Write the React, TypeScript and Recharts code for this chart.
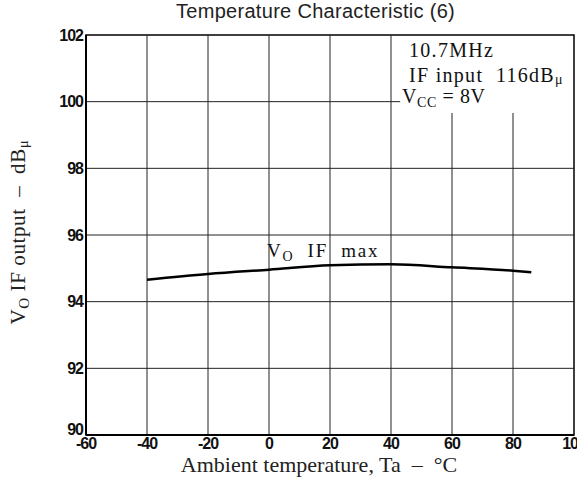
import React from 'react';
import {
  LineChart,
  Line,
  XAxis,
  YAxis,
  ReferenceLine,
  ReferenceArea,
  ReferenceDot,
  Customized,
} from 'recharts';

// Ambient temperature (°C) and VO IF max output (dBμ)
const temperatures = [-40, -20, 0, 20, 40, 60, 80, 86];
const voIfMax = [94.66, 94.83, 94.96, 95.09, 95.12, 95.03, 94.93, 94.88];

const xTicks = [-60, -40, -20, 0, 20, 40, 60, 80, 100];
const yTicks = [90, 92, 94, 96, 98, 100, 102];

const fullVerticalGrid = [-40, -20, 0, 20, 40];
const shortVerticalGrid = [60, 80];
const fullHorizontalGrid = [92, 94, 96, 98];

const data = temperatures.map((t, i) => ({ t, v: voIfMax[i] }));

const SERIF = '"Liberation Serif", "DejaVu Serif", serif';
const SANS = '"Liberation Sans", Arial, sans-serif';

const tickFont = {
  fill: '#111',
  fontFamily: SANS,
  fontWeight: 700,
  fontSize: 16,
  letterSpacing: -1,
};

const gridStroke = '#222';

const XTick = (p: any) => (
  <text x={p.x} y={p.y} dy="0.71em" textAnchor="middle" {...tickFont}>
    {p.payload.value < 0 ? '-' + Math.abs(p.payload.value) : p.payload.value}
  </text>
);

const YTick = (p: any) => (
  <text
    x={p.x}
    y={p.y + (p.payload.value === 90 ? -6 : 0)}
    dy="0.355em"
    textAnchor="end"
    {...tickFont}
  >
    {p.payload.value}
  </text>
);

const TextShape = (content: React.ReactNode, extra: any = {}) => (p: any) => (
  <text
    x={p.cx}
    y={p.cy}
    fontFamily={SERIF}
    fontSize={20}
    fill="#111"
    letterSpacing={1.3}
    {...extra}
  >
    {content}
  </text>
);

export default function App() {
  return (
    <div style={{ position: 'absolute', left: 0, top: 0, background: '#fff' }}>
      <LineChart
        width={577}
        height={486}
        data={data}
        margin={{ top: 35, right: 3, bottom: 0, left: 0 }}
      >
        <XAxis
          dataKey="t"
          type="number"
          domain={[-60, 100]}
          ticks={xTicks}
          interval={0}
          tickLine={false}
          tickSize={0}
          tickMargin={3}
          axisLine={{ stroke: '#000', strokeWidth: 2 }}
          tick={<XTick />}
          height={51}
        />
        <YAxis
          type="number"
          domain={[90, 102]}
          ticks={yTicks}
          interval={0}
          tickLine={false}
          tickSize={0}
          tickMargin={3}
          axisLine={{ stroke: '#000', strokeWidth: 2 }}
          tick={<YTick />}
          width={86}
        />
        <ReferenceArea
          x1={-60}
          x2={100}
          y1={90}
          y2={102}
          fill="none"
          stroke="#000"
          strokeWidth={1.5}
          fillOpacity={0}
        />
        {fullVerticalGrid.map((x) => (
          <ReferenceLine key={'v' + x} x={x} stroke={gridStroke} strokeWidth={1} />
        ))}
        {shortVerticalGrid.map((x) => (
          <ReferenceLine
            key={'sv' + x}
            segment={[
              { x, y: 90 },
              { x, y: 99.66 },
            ]}
            stroke={gridStroke}
            strokeWidth={1}
          />
        ))}
        {fullHorizontalGrid.map((y) => (
          <ReferenceLine key={'h' + y} y={y} stroke={gridStroke} strokeWidth={1} />
        ))}
        <ReferenceLine
          segment={[
            { x: -60, y: 100 },
            { x: 43, y: 100 },
          ]}
          stroke={gridStroke}
          strokeWidth={1}
        />
        <Line
          dataKey="v"
          type="monotone"
          stroke="#000"
          strokeWidth={2.5}
          dot={false}
          isAnimationActive={false}
        />
        <ReferenceDot x={45.9} y={101.34} r={0} shape={TextShape('10.7MHz')} />
        <ReferenceDot
          x={45.9}
          y={100.59}
          r={0}
          shape={TextShape(
            <>
              IF input{'\u00a0\u00a0'}116dB
              <tspan fontSize={14} dy={2}>
                μ
              </tspan>
            </>
          )}
        />
        <ReferenceDot
          x={43.6}
          y={99.96}
          r={0}
          shape={TextShape(
            <>
              V
              <tspan fontSize={14} dy={4}>
                CC
              </tspan>
              <tspan dy={-4}>{'\u00a0'}={'\u00a0'}8V</tspan>
            </>,
            { letterSpacing: 0.6 }
          )}
        />
        <ReferenceDot
          x={-0.66}
          y={95.35}
          r={0}
          shape={TextShape(
            <>
              V
              <tspan fontSize={14} dy={4}>
                O
              </tspan>
              <tspan dy={-4}>{'\u00a0\u00a0'}IF{'\u00a0\u00a0'}max</tspan>
            </>,
            { fontSize: 19, letterSpacing: 1.8 }
          )}
        />
        <Customized
          component={() => (
            <g>
              <text
                x={315.5}
                y={18}
                textAnchor="middle"
                fontFamily={SANS}
                fontSize={20}
                letterSpacing={0.3}
                fill="#222"
              >
                Temperature Characteristic (6)
              </text>
              <text
                x={319}
                y={472}
                textAnchor="middle"
                fontFamily={SERIF}
                fontSize={22}
                fill="#222"
              >
                Ambient temperature, Ta{'\u00a0\u00a0'}–{'\u00a0\u00a0'}°C
              </text>
              <text
                x={25}
                y={232}
                transform="rotate(-90, 25, 232)"
                textAnchor="middle"
                fontFamily={SERIF}
                fontSize={21}
                letterSpacing={0.6}
                fill="#222"
              >
                V
                <tspan fontSize={15} dy={4}>
                  O
                </tspan>
                <tspan dy={-4}>
                  {'\u00a0'}IF output{'\u00a0\u00a0'}–{'\u00a0\u00a0'}dB
                </tspan>
                <tspan fontSize={15} dy={3}>
                  μ
                </tspan>
              </text>
            </g>
          )}
        />
      </LineChart>
    </div>
  );
}
